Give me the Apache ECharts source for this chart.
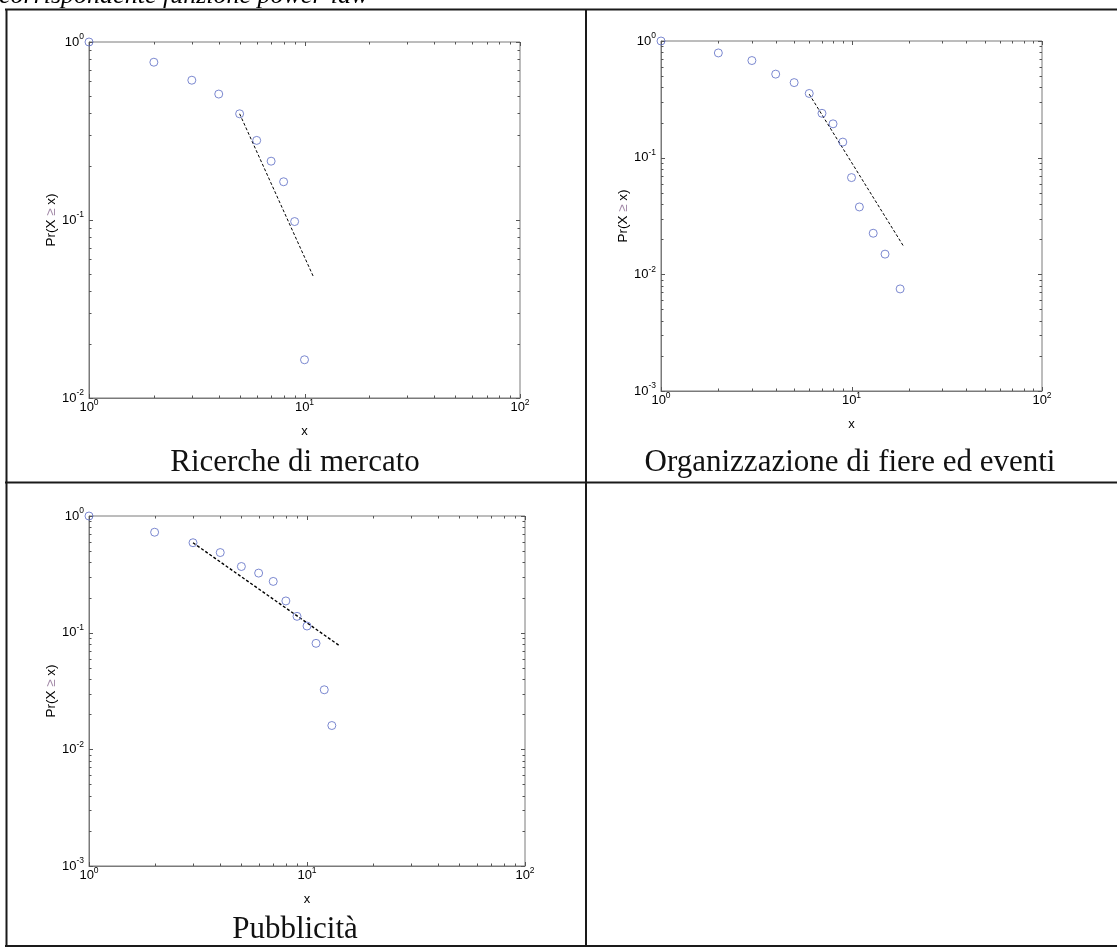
<!DOCTYPE html>
<html><head><meta charset="utf-8">
<script src="https://cdn.jsdelivr.net/npm/echarts@6/dist/echarts.min.js"></script>
<style>html,body{margin:0;padding:0;background:#fff;overflow:hidden}#c{width:1117px;height:947px}</style>
</head><body><div id="c"></div>
<script>
// ---- texts ----
const titles = ['Ricerche di mercato', 'Organizzazione di fiere ed eventi', 'Pubblicità'];
const headerText = 'corrispondente funzione power-law';
const xAxisName = 'x';

// ---- plot 1: Ricerche di mercato ----
const x1 = [1, 2, 3, 4, 5, 6, 7, 8, 9, 10];
const y1 = [1.0, 0.77, 0.61, 0.51, 0.395, 0.28, 0.214, 0.164, 0.098, 0.0164];
const fitX1 = [5, 11];
const fitY1 = [0.395, 0.048];

// ---- plot 2: Organizzazione di fiere ed eventi ----
const x2 = [1, 2, 3, 4, 5, 6, 7, 8, 9, 10, 11, 13, 15, 18];
const y2 = [1.0, 0.79, 0.68, 0.52, 0.44, 0.355, 0.24, 0.195, 0.136, 0.0675, 0.0378, 0.0225, 0.0149, 0.0075];
const fitX2 = [6, 18.8];
const fitY2 = [0.35, 0.0173];

// ---- plot 3: Pubblicità ----
const x3 = [1, 2, 3, 4, 5, 6, 7, 8, 9, 10, 11, 12, 13];
const y3 = [1.0, 0.726, 0.59, 0.486, 0.369, 0.324, 0.275, 0.187, 0.138, 0.114, 0.081, 0.0324, 0.016];
const fitX3 = [3, 14];
const fitY3 = [0.59, 0.078];

// ---- axis ranges and ticks ----
const xRange = [1, 100];
const yRange1 = [0.01, 1];
const yRange23 = [0.001, 1];
const xMajorTicks = [1, 10, 100];
const xMinorTicks = [2, 3, 4, 5, 6, 7, 8, 9, 20, 30, 40, 50, 60, 70, 80, 90];
const yMajorTicks1 = [0.01, 0.1, 1];
const yMinorTicks1 = [0.02, 0.03, 0.04, 0.05, 0.06, 0.07, 0.08, 0.09, 0.2, 0.3, 0.4, 0.5, 0.6, 0.7, 0.8, 0.9];
const yMajorTicks23 = [0.001, 0.01, 0.1, 1];
const yMinorTicks23 = [0.002, 0.003, 0.004, 0.005, 0.006, 0.007, 0.008, 0.009,
  0.02, 0.03, 0.04, 0.05, 0.06, 0.07, 0.08, 0.09, 0.2, 0.3, 0.4, 0.5, 0.6, 0.7, 0.8, 0.9];

// ---- styles ----
const SANS = '"Liberation Sans", Arial, sans-serif';
const SERIF = '"Liberation Serif", "Times New Roman", serif';
const AXIS_COLOR = '#7a7a7a';
const MARKER_COLOR = '#5b6cc4';

const grids = [
  { left: 89, top: 42, width: 431, height: 356 },
  { left: 661, top: 41, width: 381, height: 350 },
  { left: 89, top: 516, width: 436, height: 350 }
];
const yRanges = [yRange1, yRange23, yRange23];

function pairs(xs, ys) { return xs.map((v, i) => [v, ys[i]]); }

const labelRich = {
  b: { fontSize: 13, fontFamily: SANS, color: '#000' },
  s: { fontSize: 8.5, fontFamily: SANS, color: '#000', padding: [0, 0, 10, 0] }
};
function expFormatter(v) {
  return '{b|10}{s|' + Math.round(Math.log10(v)) + '}';
}

const xAxes = grids.map((g, i) => ({
  type: 'log', logBase: 10, gridIndex: i, min: xRange[0], max: xRange[1],
  axisLine: { show: true, lineStyle: { color: AXIS_COLOR, width: 1 } },
  axisTick: { show: false }, splitLine: { show: false }, minorTick: { show: false },
  axisLabel: { formatter: expFormatter, rich: labelRich, margin: 0, hideOverlap: false },
  name: xAxisName, nameLocation: 'middle', nameGap: 27,
  nameTextStyle: { fontSize: 13, fontFamily: SANS, color: '#000' }
}));
const yAxes = grids.map((g, i) => ({
  type: 'log', logBase: 10, gridIndex: i, min: yRanges[i][0], max: yRanges[i][1],
  axisLine: { show: true, lineStyle: { color: AXIS_COLOR, width: 1 } },
  axisTick: { show: false }, splitLine: { show: false }, minorTick: { show: false },
  axisLabel: { formatter: expFormatter, rich: labelRich, margin: 5, hideOverlap: false },
  name: 'Pr(X {g|≥} x)', nameLocation: 'middle', nameGap: 30,
  nameTextStyle: { fontSize: 13.5, fontFamily: SANS, color: '#000',
    rich: { g: { fontSize: 13.5, fontFamily: SANS, color: '#a38aa8' } } }
}));

function tickSeries(gi, xr, yr, xMaj, xMin, yMaj, yMin) {
  const data = [];
  xMaj.forEach(v => data.push([v, yr[0], 0, 1]));
  xMin.forEach(v => data.push([v, yr[0], 0, 0]));
  yMaj.forEach(v => data.push([xr[0], v, 1, 1]));
  yMin.forEach(v => data.push([xr[0], v, 1, 0]));
  return {
    type: 'custom', xAxisIndex: gi, yAxisIndex: gi, silent: true, clip: false,
    encode: { x: 0, y: 1 }, data: data, z: 1,
    renderItem: function (params, api) {
      const v0 = api.value(0), v1 = api.value(1), isY = api.value(2), major = api.value(3);
      const len = major ? 4 : 2.5;
      const style = { stroke: '#555', lineWidth: 1 };
      if (!isY) {
        const b = api.coord([v0, yr[0]]), t = api.coord([v0, yr[1]]);
        const x = Math.round(b[0]) + 0.5;
        return { type: 'group', children: [
          { type: 'line', shape: { x1: x, y1: b[1], x2: x, y2: b[1] - len }, style: style },
          { type: 'line', shape: { x1: x, y1: t[1], x2: x, y2: t[1] + len }, style: style }
        ] };
      }
      const l = api.coord([xr[0], v1]), r = api.coord([xr[1], v1]);
      const y = Math.round(l[1]) + 0.5;
      return { type: 'group', children: [
        { type: 'line', shape: { x1: l[0], y1: y, x2: l[0] + len, y2: y }, style: style },
        { type: 'line', shape: { x1: r[0], y1: y, x2: r[0] - len, y2: y }, style: style }
      ] };
    }
  };
}

function scatter(gi, xs, ys) {
  return {
    type: 'scatter', xAxisIndex: gi, yAxisIndex: gi, data: pairs(xs, ys),
    symbol: 'circle', symbolSize: 8, z: 3, clip: false,
    itemStyle: { color: 'rgba(0,0,0,0)', borderColor: MARKER_COLOR, borderWidth: 1 }
  };
}
function fitLine(gi, xs, ys, w) {
  return {
    type: 'line', xAxisIndex: gi, yAxisIndex: gi, data: pairs(xs, ys),
    showSymbol: false, symbol: 'none', z: 2,
    lineStyle: { color: '#000', width: w, type: [3, 2] }
  };
}

const series = [
  tickSeries(0, xRange, yRange1, xMajorTicks, xMinorTicks, yMajorTicks1, yMinorTicks1),
  tickSeries(1, xRange, yRange23, xMajorTicks, xMinorTicks, yMajorTicks23, yMinorTicks23),
  tickSeries(2, xRange, yRange23, xMajorTicks, xMinorTicks, yMajorTicks23, yMinorTicks23),
  fitLine(0, fitX1, fitY1, 1),
  fitLine(1, fitX2, fitY2, 1),
  fitLine(2, fitX3, fitY3, 1.4),
  scatter(0, x1, y1),
  scatter(1, x2, y2),
  scatter(2, x3, y3)
];

const LINE = { stroke: '#1a1a1a', lineWidth: 2 };
const graphic = [
  { type: 'line', shape: { x1: 5, y1: 9.5, x2: 1117, y2: 9.5 }, style: LINE },
  { type: 'line', shape: { x1: 6.5, y1: 9, x2: 6.5, y2: 947 }, style: LINE },
  { type: 'line', shape: { x1: 5, y1: 482.5, x2: 1117, y2: 482.5 }, style: LINE },
  { type: 'line', shape: { x1: 586, y1: 9, x2: 586, y2: 947 }, style: LINE },
  { type: 'line', shape: { x1: 5, y1: 946, x2: 1117, y2: 946 }, style: LINE },
  { type: 'text', x: -1, y: 9, style: { text: headerText, font: 'italic 26px ' + SERIF, fill: '#000', align: 'left', verticalAlign: 'bottom' } },
  { type: 'text', x: 295, y: 463, style: { text: titles[0], font: '31px ' + SERIF, fill: '#111', align: 'center', verticalAlign: 'middle' } },
  { type: 'text', x: 850, y: 463, style: { text: titles[1], font: '31px ' + SERIF, fill: '#111', align: 'center', verticalAlign: 'middle' } },
  { type: 'text', x: 295, y: 930, style: { text: titles[2], font: '31px ' + SERIF, fill: '#111', align: 'center', verticalAlign: 'middle' } }
];

const chart = echarts.init(document.getElementById('c'), null, { renderer: 'canvas' });
chart.setOption({
  backgroundColor: '#fff',
  animation: false,
  grid: grids.map(g => Object.assign({ show: true, borderColor: AXIS_COLOR, borderWidth: 1, backgroundColor: 'transparent', outerBoundsMode: 'none' }, g)),
  xAxis: xAxes,
  yAxis: yAxes,
  series: series,
  graphic: graphic
});
</script>
</body></html>
